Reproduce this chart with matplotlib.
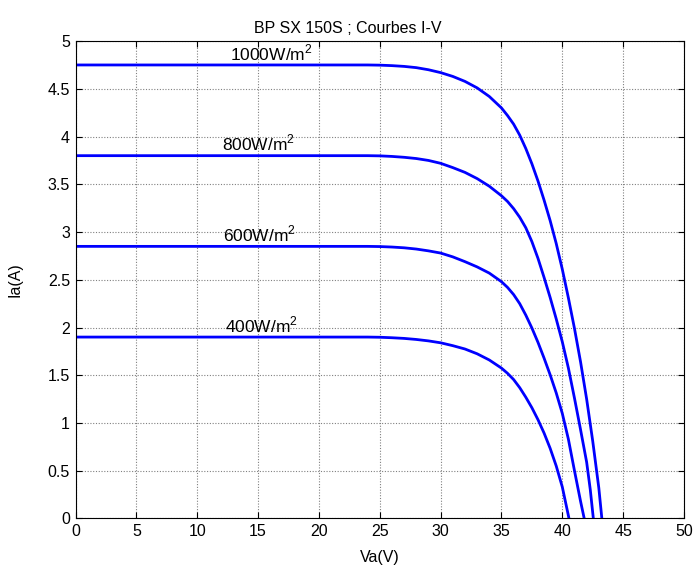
import numpy as np
import matplotlib.pyplot as plt

plt.rcParams['font.family'] = ['Liberation Sans', 'DejaVu Sans']
plt.rcParams['mathtext.fontset'] = 'custom'
plt.rcParams['mathtext.rm'] = 'Liberation Sans'

# I-V curves (voltage V, current A)
v_1000 = [0, 24, 25, 26, 27, 28, 29, 30, 31, 32, 33, 34, 35, 35.5, 36, 36.5, 37, 37.5,
          38, 38.5, 39, 39.5, 40, 40.5, 41, 41.5, 42, 42.5, 43, 43.25]
i_1000 = [4.75, 4.75, 4.748, 4.743, 4.735, 4.722, 4.70, 4.67, 4.63, 4.578, 4.51, 4.42, 4.30, 4.22,
          4.13, 4.015, 3.875, 3.715, 3.535, 3.335, 3.12, 2.88, 2.61, 2.31, 1.99, 1.64, 1.25, 0.81, 0.32, 0]

v_800 = [0, 24, 25, 26, 27, 28, 29, 30, 31, 32, 33, 34, 35, 35.5, 36, 36.5, 37, 37.5,
         38, 38.5, 39, 39.5, 40, 40.5, 41, 41.5, 42, 42.3, 42.55]
i_800 = [3.80, 3.80, 3.798, 3.792, 3.783, 3.77, 3.75, 3.72, 3.675, 3.625, 3.56, 3.48, 3.38, 3.32,
         3.245, 3.155, 3.045, 2.90, 2.725, 2.525, 2.315, 2.09, 1.85, 1.575, 1.26, 0.93, 0.59, 0.30, 0]

v_600 = [0, 24, 25, 26, 27, 28, 29, 30, 31, 32, 33, 34, 35, 35.5, 36, 36.5, 37, 37.5,
         38, 38.5, 39, 39.5, 40, 40.5, 41, 41.5, 41.8]
i_600 = [2.85, 2.85, 2.848, 2.843, 2.835, 2.822, 2.803, 2.78, 2.74, 2.69, 2.635, 2.57, 2.48, 2.42,
         2.345, 2.25, 2.13, 1.995, 1.845, 1.68, 1.505, 1.315, 1.10, 0.83, 0.50, 0.18, 0]

v_400 = [0, 24, 25, 26, 27, 28, 29, 30, 31, 32, 33, 34, 35, 35.5, 36, 36.5, 37, 37.5,
         38, 38.5, 39, 39.5, 40, 40.55]
i_400 = [1.90, 1.90, 1.898, 1.893, 1.886, 1.875, 1.86, 1.84, 1.81, 1.775, 1.725, 1.66, 1.575, 1.52,
         1.455, 1.37, 1.27, 1.16, 1.035, 0.895, 0.735, 0.55, 0.33, 0]

labels = ['1000W/m$^2$', '800W/m$^2$', '600W/m$^2$', '400W/m$^2$']
label_x = [12.7, 12.0, 12.1, 12.25]
label_y = [4.80, 3.85, 2.90, 1.95]

fig = plt.figure(figsize=(6.94, 5.70), dpi=100)
ax = fig.add_axes([0.1088, 0.0904, 0.8768, 0.8375])

for v, i in [(v_1000, i_1000), (v_800, i_800), (v_600, i_600), (v_400, i_400)]:
    ax.plot(v, i, color='#0000ff', lw=2)

for lab, x, y in zip(labels, label_x, label_y):
    ax.text(x, y, lab, fontsize=12.5, va='baseline', ha='left')

ax.set_xlim(0, 50)
ax.set_ylim(0, 5)
ax.set_xticks(np.arange(0, 51, 5))
ax.set_yticks(np.arange(0, 5.01, 0.5))
ax.set_yticklabels(['0', '0.5', '1', '1.5', '2', '2.5', '3', '3.5', '4', '4.5', '5'])
ax.grid(True, color='#808080', linestyle=(0, (1, 1.5)), linewidth=0.8)
ax.tick_params(direction='in', length=4, top=True, right=True, labelsize=11.5, pad=4)
for s in ax.spines.values():
    s.set_linewidth(0.8)

ax.set_title('BP SX 150S ; Courbes I-V', fontsize=11.5, pad=6, x=0.447)
ax.set_xlabel('Va(V)', fontsize=11.5, labelpad=8)
ax.set_ylabel('Ia(A)', fontsize=11.5, labelpad=18)

fig.savefig('out.png', dpi=100)
